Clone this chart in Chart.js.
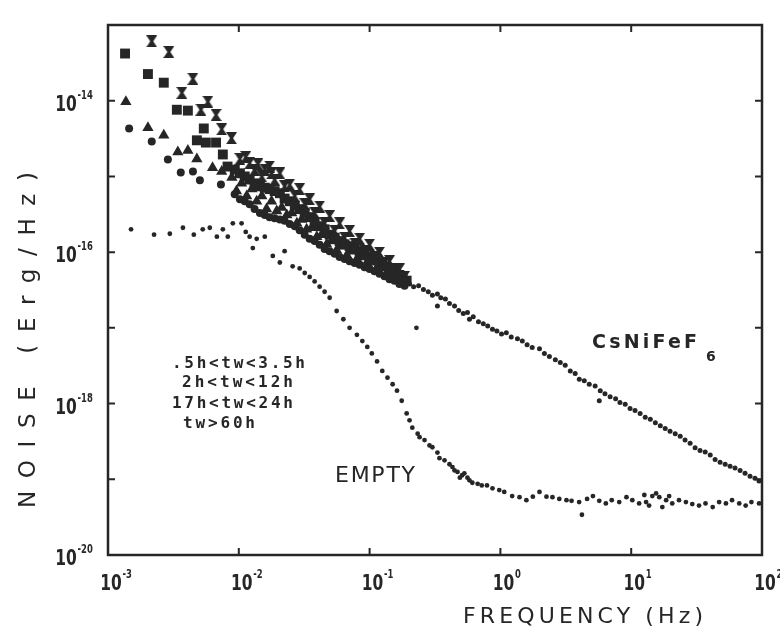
<!DOCTYPE html>
<html>
<head>
<meta charset="utf-8">
<title>Noise spectra</title>
<script src="https://cdn.jsdelivr.net/npm/chart.js@4.4.1/dist/chart.umd.min.js"></script>
<style>
  html, body { margin: 0; padding: 0; background: #fff; }
  canvas { display: block; }
</style>
</head>
<body>
<canvas id="noiseChart" width="780" height="644"></canvas>
<script>
// Axis decades and their exponents (blank = tick without label)
const xTicks = [1e-3, 1e-2, 1e-1, 1, 10, 100];
const xTickExponents = ['-3', '-2', '-1', '0', '1', '2'];
const yTicks = [1e-20, 1e-19, 1e-18, 1e-17, 1e-16, 1e-15, 1e-14, 1e-13];
const yTickExponents = ['-20', '', '-18', '', '-16', '', '-14', ''];

// CsNiFeF6, four waiting-time groups (Hz, erg/Hz)
const hourglassFreq = [2.16e-3, 2.92e-3, 4.46e-3, 3.67e-3, 5.8e-3, 5.13e-3, 6.7e-3, 7.4e-3, 8.8e-3, 1.13e-2, 1.72e-2, 1.32e-2, 1.5e-2, 1.88e-2, 2.24e-2, 2.68e-2, 3.19e-2, 3.8e-2, 4.53e-2, 5.41e-2, 6.44e-2, 7.68e-2, 9.16e-2, 0.109, 0.130, 0.155, 0.185, 1.4e-2, 2.06e-2, 2.92e-2, 4.15e-2,
    1.02e-2, 1.21e-2, 1.58e-2, 1.78e-2, 2.45e-2, 3.48e-2, 4.95e-2, 5.9e-2, 7.03e-2, 8.39e-2, 0.100, 0.119, 0.142, 0.169];
const hourglassNoise = [6.1e-14, 4.4e-14, 1.95e-14, 1.27e-14, 9.7e-15, 7.6e-15, 6.5e-15, 4.2e-15, 3.2e-15, 1.8e-15, 1.35e-15, 1.23e-15, 1.0e-15, 9.1e-16, 7.4e-16, 5.5e-16, 4.3e-16, 3.3e-16, 2.4e-16, 1.9e-16, 1.55e-16, 1.3e-16, 1.03e-16, 8.6e-17, 7.2e-17, 5.9e-17, 4.7e-17, 1.45e-15, 1.1e-15, 6.8e-16, 4.0e-16,
    1.7e-15, 1.5e-15, 1.23e-15, 1.1e-15, 7.8e-16, 5.0e-16, 3.0e-16, 2.4e-16, 1.9e-16, 1.5e-16, 1.25e-16, 9.8e-17, 7.6e-17, 5.9e-17];

const squareFreq = [1.35e-3, 2.02e-3, 2.67e-3, 3.36e-3, 4.08e-3, 5.4e-3, 4.78e-3, 5.6e-3, 6.7e-3, 7.55e-3, 8.2e-3, 1.02e-2, 1.21e-2, 1.45e-2, 1.72e-2, 2.06e-2, 2.45e-2, 2.92e-2, 3.48e-2, 4.15e-2, 4.95e-2, 5.9e-2, 7.03e-2, 8.39e-2, 0.100, 0.119, 0.142, 0.169, 0.192,
    9.32e-3, 1.11e-2, 1.32e-2, 1.58e-2, 1.88e-2, 2.24e-2, 2.68e-2, 3.19e-2, 3.8e-2, 4.53e-2, 5.41e-2, 6.44e-2, 7.68e-2, 9.16e-2, 0.109, 0.130, 0.155, 0.179];
const squareNoise = [4.2e-14, 2.25e-14, 1.73e-14, 7.6e-15, 7.4e-15, 4.3e-15, 3.0e-15, 2.8e-15, 2.8e-15, 1.95e-15, 1.35e-15, 1.1e-15, 9.1e-16, 7.4e-16, 6.8e-16, 6.0e-16, 4.7e-16, 3.7e-16, 2.9e-16, 2.2e-16, 1.7e-16, 1.4e-16, 1.2e-16, 1.03e-16, 8.6e-17, 7.2e-17, 5.9e-17, 5.0e-17, 4.2e-17,
    1.23e-15, 1.0e-15, 8.1e-16, 7.1e-16, 6.4e-16, 5.1e-16, 4.1e-16, 3.3e-16, 2.5e-16, 2.0e-16, 1.55e-16, 1.27e-16, 1.1e-16, 9.4e-17, 7.8e-17, 6.5e-17, 5.4e-17, 4.6e-17];

const triangleFreq = [1.37e-3, 2.02e-3, 2.67e-3, 3.42e-3, 4.08e-3, 4.78e-3, 6.3e-3, 7.4e-3, 8.85e-3, 1.05e-2, 1.26e-2, 1.5e-2, 1.78e-2, 2.13e-2, 2.54e-2, 3.03e-2, 3.61e-2, 4.3e-2, 5.1e-2, 6.1e-2, 7.3e-2, 8.7e-2, 0.104, 0.123, 0.147, 0.176,
    9.6e-3, 1.15e-2, 1.37e-2, 1.63e-2, 1.95e-2, 2.33e-2, 2.78e-2, 3.3e-2, 3.95e-2, 4.7e-2, 5.6e-2, 6.7e-2, 8.0e-2, 9.5e-2, 0.114, 0.135, 0.162];
const triangleNoise = [9.7e-15, 4.4e-15, 3.5e-15, 2.1e-15, 2.2e-15, 1.7e-15, 1.3e-15, 1.16e-15, 9.7e-16, 8.1e-16, 6.8e-16, 5.5e-16, 4.7e-16, 3.9e-16, 3.3e-16, 2.7e-16, 2.1e-16, 1.7e-16, 1.4e-16, 1.2e-16, 1.03e-16, 8.6e-17, 7.4e-17, 6.2e-17, 5.2e-17, 4.3e-17,
    6.4e-16, 5.5e-16, 4.7e-16, 3.7e-16, 3.5e-16, 3.1e-16, 2.4e-16, 2.0e-16, 1.6e-16, 1.27e-16, 1.06e-16, 9.1e-17, 8.1e-17, 7.2e-17, 6.2e-17, 5.3e-17, 4.6e-17];

const circleFreq = [1.45e-3, 2.16e-3, 2.87e-3, 3.6e-3, 4.46e-3, 5.04e-3, 7.3e-3, 9.3e-3, 1.11e-2, 1.32e-2, 1.58e-2, 1.88e-2, 2.24e-2, 2.68e-2, 3.19e-2, 3.8e-2, 4.53e-2, 5.41e-2, 6.44e-2, 7.68e-2, 9.16e-2, 0.109, 0.130, 0.155, 0.185,
    1.02e-2, 1.21e-2, 1.45e-2, 1.72e-2, 2.06e-2, 2.45e-2, 2.92e-2, 3.48e-2, 4.15e-2, 4.95e-2, 5.9e-2, 7.03e-2, 8.39e-2, 0.100, 0.119, 0.142, 0.169];
const circleNoise = [4.3e-15, 2.9e-15, 1.67e-15, 1.13e-15, 1.16e-15, 8.9e-16, 7.8e-16, 5.8e-16, 4.7e-16, 3.7e-16, 3.1e-16, 2.8e-16, 2.6e-16, 2.2e-16, 1.7e-16, 1.4e-16, 1.1e-16, 9.5e-17, 8.1e-17, 7.2e-17, 6.3e-17, 5.6e-17, 4.8e-17, 4.2e-17, 3.6e-17,
    5.0e-16, 4.3e-16, 3.3e-16, 2.9e-16, 2.7e-16, 2.35e-16, 1.95e-16, 1.5e-16, 1.25e-16, 1.03e-16, 8.6e-17, 7.6e-17, 6.8e-17, 6.0e-17, 5.2e-17, 4.4e-17, 3.8e-17];

// CsNiFeF6 above 0.2 Hz, where the groups coincide
const sampleHighFreq = [0.202, 0.217, 0.237, 0.258, 0.281, 0.302, 0.33, 0.35, 0.38, 0.408, 0.446, 0.48, 0.52, 0.56, 0.58, 0.62, 0.68, 0.74, 0.80, 0.87, 0.94, 1.02, 1.11, 1.21, 1.35, 1.47, 1.60, 1.75, 1.99, 2.17, 2.37, 2.63, 2.87, 3.13, 3.42, 3.73, 4.01, 4.38, 4.78, 5.3, 5.8, 6.3, 6.9, 7.6, 8.2, 9.0, 9.8, 10.7, 11.7, 12.8, 14.0, 15.3, 16.7, 18.2, 19.8, 21.7, 23.7, 25.8, 28.2, 30.8, 33.6, 36.8, 40.2, 43.8, 47.8, 52.3, 57.0, 62.2, 68.0, 74.2, 81.0, 88.4, 94.9, 0.33, 5.7];
const sampleHighNoise = [3.8e-17, 3.5e-17, 3.6e-17, 3.2e-17, 3.0e-17, 2.7e-17, 2.8e-17, 2.5e-17, 2.4e-17, 2.1e-17, 1.95e-17, 1.7e-17, 1.55e-17, 1.6e-17, 1.3e-17, 1.4e-17, 1.2e-17, 1.13e-17, 1.06e-17, 9.6e-18, 9.1e-18, 8.3e-18, 8.6e-18, 7.6e-18, 7.2e-18, 6.7e-18, 6.0e-18, 5.5e-18, 5.3e-18, 4.6e-18, 4.2e-18, 3.8e-18, 3.5e-18, 3.2e-18, 2.7e-18, 2.5e-18, 2.1e-18, 2.0e-18, 1.8e-18, 1.7e-18, 1.48e-18, 1.35e-18, 1.23e-18, 1.16e-18, 1.03e-18, 9.8e-19, 8.6e-19, 8.1e-19, 7.4e-19, 6.6e-19, 6.2e-19, 5.6e-19, 5.1e-19, 4.7e-19, 4.3e-19, 4.0e-19, 3.7e-19, 3.3e-19, 3.0e-19, 2.6e-19, 2.4e-19, 2.3e-19, 2.1e-19, 1.83e-19, 1.68e-19, 1.58e-19, 1.49e-19, 1.41e-19, 1.31e-19, 1.2e-19, 1.1e-19, 1.03e-19, 9.5e-20, 1.95e-17, 1.09e-18];

// Empty sample holder
const emptyFreq = [1.5e-3, 2.25e-3, 2.97e-3, 3.74e-3, 4.53e-3, 5.3e-3, 6.0e-3, 6.8e-3, 7.55e-3, 8.24e-3, 9.0e-3, 1.05e-2, 1.13e-2, 1.21e-2, 1.37e-2, 1.58e-2, 1.28e-2, 1.82e-2, 2.06e-2, 2.24e-2, 2.58e-2, 2.92e-2, 3.19e-2, 3.48e-2, 3.8e-2, 4.15e-2, 4.53e-2, 4.95e-2, 5.6e-2, 6.3e-2, 7.03e-2, 8.0e-2, 8.8e-2, 9.6e-2, 0.104, 0.114, 0.125, 0.137, 0.150, 0.162, 0.176, 0.192, 0.202, 0.212, 0.233, 0.241, 0.263, 0.287, 0.302, 0.33, 0.342, 0.374, 0.408, 0.43, 0.47, 0.51, 0.56, 0.58, 0.61, 0.67, 0.72, 0.79, 0.87, 0.98, 1.07, 1.23, 1.40, 1.58, 1.77, 1.99, 2.25, 2.5, 2.82, 3.2, 3.5, 4.0, 4.2, 4.6, 5.1, 5.7, 6.4, 7.1, 8.1, 9.2, 10.2, 11.5, 13.0, 14.5, 16.4, 18.5, 20.6, 23.2, 26.2, 29.3, 33.0, 37, 42, 47, 53, 59, 67, 75, 83, 95, 0.228, 12.6, 13.7, 15.5, 17.3, 19.5, 0.446, 0.53, 0.49];
const emptyNoise = [2.0e-16, 1.7e-16, 1.75e-16, 2.1e-16, 1.7e-16, 2.0e-16, 2.1e-16, 1.6e-16, 2.0e-16, 1.6e-16, 2.4e-16, 2.4e-16, 1.85e-16, 1.6e-16, 1.5e-16, 1.6e-16, 1.13e-16, 8.9e-17, 7.3e-17, 1.03e-16, 6.5e-17, 6.1e-17, 5.3e-17, 4.7e-17, 4.1e-17, 3.5e-17, 3.0e-17, 2.5e-17, 1.67e-17, 1.3e-17, 1.0e-17, 8.1e-18, 6.7e-18, 5.6e-18, 4.6e-18, 3.6e-18, 2.7e-18, 2.2e-18, 1.8e-18, 1.48e-18, 1.09e-18, 7.4e-19, 6.0e-19, 4.8e-19, 4.0e-19, 3.6e-19, 3.3e-19, 2.8e-19, 2.65e-19, 2.25e-19, 1.9e-19, 1.78e-19, 1.58e-19, 1.45e-19, 1.25e-19, 1.13e-19, 1.05e-19, 9.7e-20, 9.0e-20, 8.7e-20, 8.3e-20, 8.3e-20, 7.6e-20, 7.2e-20, 6.8e-20, 6.0e-20, 5.8e-20, 5.3e-20, 5.9e-20, 6.8e-20, 5.9e-20, 5.8e-20, 5.5e-20, 5.3e-20, 5.2e-20, 5.0e-20, 3.4e-20, 5.5e-20, 6.0e-20, 5.2e-20, 4.8e-20, 5.3e-20, 5.0e-20, 5.8e-20, 5.3e-20, 4.8e-20, 5.0e-20, 6.0e-20, 5.8e-20, 5.3e-20, 4.8e-20, 5.3e-20, 5.0e-20, 4.7e-20, 4.5e-20, 4.8e-20, 4.3e-20, 5.0e-20, 4.8e-20, 5.3e-20, 4.8e-20, 4.5e-20, 5.0e-20, 4.8e-20, 1.0e-17, 6.2e-20, 4.5e-20, 6.5e-20, 4.3e-20, 6.0e-20, 1.31e-19, 1.2e-19, 1.05e-19];

const legendLines = ['.5h<tw<3.5h', '2h<tw<12h', '17h<tw<24h', 'tw>60h'];

const INK = '#262626';
const NUM_FONT = "'DejaVu Sans Condensed', 'DejaVu Sans', sans-serif";

function toPoints(freqs, noises) {
    return freqs.map((f, i) => ({ x: f, y: noises[i] }));
}

// Bow-tie marker used by one of the waiting-time groups
function hourglassMarker() {
    const c = document.createElement('canvas');
    c.width = 11;
    c.height = 12;
    const g = c.getContext('2d');
    g.fillStyle = INK;
    g.beginPath();
    g.moveTo(0, 0);
    g.lineTo(11, 0);
    g.lineTo(7, 6);
    g.lineTo(11, 12);
    g.lineTo(0, 12);
    g.lineTo(4, 6);
    g.closePath();
    g.fill();
    return c;
}

// Draws text stretched with letter spacing to a given width
function spacedText(ctx, text, left, baseline, width) {
    ctx.letterSpacing = '0px';
    const natural = ctx.measureText(text).width;
    const gap = Math.max(0, (width - natural) / (text.length - 1));
    ctx.letterSpacing = gap + 'px';
    ctx.textAlign = 'left';
    ctx.fillText(text, left, baseline);
    ctx.letterSpacing = '0px';
}

// "10" with a raised exponent, narrow like plotter digits
function powerLabel(ctx, exponent, cx, baseline) {
    ctx.save();
    ctx.translate(cx, baseline);
    ctx.scale(0.78, 1);
    ctx.font = 'bold 22px ' + NUM_FONT;
    ctx.textAlign = 'center';
    ctx.fillText('10', 0, 0);
    const w = ctx.measureText('10').width;
    ctx.font = 'bold 12px ' + NUM_FONT;
    ctx.textAlign = 'left';
    ctx.fillText(exponent, w / 2 + 1, -12);
    ctx.restore();
}

// Frame with inward ticks, tick labels, axis titles and annotations
const framePlugin = {
    id: 'framePlugin',
    afterDraw(chart) {
        const { ctx, chartArea: a, scales } = chart;
        ctx.save();
        ctx.strokeStyle = INK;
        ctx.fillStyle = INK;
        ctx.lineWidth = 2.5;
        ctx.strokeRect(a.left, a.top, a.right - a.left, a.bottom - a.top);

        ctx.lineWidth = 2;
        ctx.beginPath();
        xTicks.forEach(v => {
            const px = scales.x.getPixelForValue(v);
            ctx.moveTo(px, a.bottom);
            ctx.lineTo(px, a.bottom - 7);
            ctx.moveTo(px, a.top);
            ctx.lineTo(px, a.top + 7);
        });
        yTicks.forEach(v => {
            const py = scales.y.getPixelForValue(v);
            ctx.moveTo(a.left, py);
            ctx.lineTo(a.left + 7, py);
            ctx.moveTo(a.right, py);
            ctx.lineTo(a.right - 7, py);
        });
        ctx.stroke();

        ctx.textBaseline = 'alphabetic';
        xTicks.forEach((v, i) => {
            powerLabel(ctx, xTickExponents[i], scales.x.getPixelForValue(v) + 3, a.bottom + 35);
        });
        yTicks.forEach((v, i) => {
            if (yTickExponents[i]) {
                powerLabel(ctx, yTickExponents[i], a.left - 42, scales.y.getPixelForValue(v) + 10);
            }
        });

        ctx.font = "22px 'DejaVu Sans', sans-serif";
        spacedText(ctx, 'FREQUENCY (Hz)', 463, 623, 240);

        ctx.save();
        ctx.translate(35, 340);
        ctx.rotate(-Math.PI / 2);
        ctx.font = "23px 'DejaVu Sans', sans-serif";
        spacedText(ctx, 'NOISE (Erg/Hz)', -168, 0, 336);
        ctx.restore();

        ctx.font = "bold 19px 'DejaVu Sans', sans-serif";
        spacedText(ctx, 'CsNiFeF', 592, 348, 105);
        ctx.font = "bold 14px 'DejaVu Sans', sans-serif";
        ctx.fillText('6', 706, 361);

        ctx.font = "22px 'DejaVu Sans', sans-serif";
        spacedText(ctx, 'EMPTY', 335, 482, 80);

        ctx.font = "bold 16px 'DejaVu Sans Mono', monospace";
        const lefts = [172, 182, 172, 183];
        const widths = [133, 111, 121, 72];
        const baselines = [368, 387, 408, 428];
        legendLines.forEach((t, i) => spacedText(ctx, t, lefts[i], baselines[i], widths[i]));
        ctx.restore();
    }
};

new Chart(document.getElementById('noiseChart'), {
    type: 'scatter',
    data: {
        datasets: [
            {
                label: '.5h<tw<3.5h',
                data: toPoints(hourglassFreq, hourglassNoise),
                pointStyle: hourglassMarker(),
                backgroundColor: INK
            },
            {
                label: '2h<tw<12h',
                data: toPoints(squareFreq, squareNoise),
                pointStyle: 'rect',
                pointRadius: 7,
                backgroundColor: INK,
                borderWidth: 0
            },
            {
                label: '17h<tw<24h',
                data: toPoints(triangleFreq, triangleNoise),
                pointStyle: 'triangle',
                pointRadius: 6.5,
                backgroundColor: INK,
                borderWidth: 0
            },
            {
                label: 'tw>60h',
                data: toPoints(circleFreq, circleNoise),
                pointStyle: 'circle',
                pointRadius: 4,
                backgroundColor: INK,
                borderWidth: 0
            },
            {
                label: 'CsNiFeF6',
                data: toPoints(sampleHighFreq, sampleHighNoise),
                pointStyle: 'circle',
                pointRadius: 2.5,
                backgroundColor: INK,
                borderWidth: 0
            },
            {
                label: 'EMPTY',
                data: toPoints(emptyFreq, emptyNoise),
                pointStyle: 'circle',
                pointRadius: 2.4,
                backgroundColor: INK,
                borderWidth: 0
            }
        ]
    },
    options: {
        responsive: false,
        animation: false,
        devicePixelRatio: 1,
        layout: { padding: { left: 0, top: 25, right: 18, bottom: 0 } },
        plugins: {
            legend: { display: false },
            tooltip: { enabled: false }
        },
        scales: {
            x: {
                type: 'logarithmic',
                min: 1e-3,
                max: 100,
                afterBuildTicks: scale => { scale.ticks = xTicks.map(v => ({ value: v })); },
                afterFit: scale => { scale.height = 89; },
                grid: { display: false },
                border: { display: false },
                ticks: { display: false }
            },
            y: {
                type: 'logarithmic',
                min: 1e-20,
                max: 1e-13,
                afterBuildTicks: scale => { scale.ticks = yTicks.map(v => ({ value: v })); },
                afterFit: scale => { scale.width = 108; },
                grid: { display: false },
                border: { display: false },
                ticks: { display: false }
            }
        }
    },
    plugins: [framePlugin]
});
</script>
</body>
</html>
